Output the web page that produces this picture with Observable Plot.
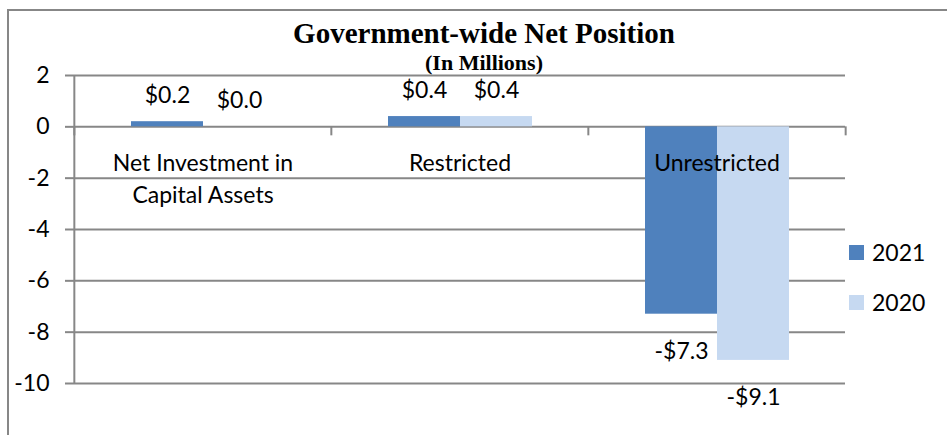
<!DOCTYPE html>
<html>
<head>
<meta charset="utf-8">
<script src="https://cdn.jsdelivr.net/npm/d3@7"></script>
<script src="https://cdn.jsdelivr.net/npm/@observablehq/plot@0.6"></script>
<style>
  html, body { margin: 0; padding: 0; background: #fff; }
  #wrap { position: relative; width: 947px; height: 435px; overflow: hidden; font-family: Lato, "Open Sans", sans-serif; }
  #border { position: absolute; left: 7px; top: 9px; width: 945px; height: 440px; border-left: 2px solid #878787; border-top: 2px solid #878787; }
  #chart { position: absolute; left: 0; top: 0; }
  .title { position: absolute; left: 0; width: 968px; text-align: center; font-family: "Liberation Serif", "Times New Roman", serif; font-weight: bold; color: #000; white-space: nowrap; line-height: 1; }
  #t1 { top: 19px; font-size: 29px; }
  #t2 { top: 52px; font-size: 22px; }
  .leg { position: absolute; left: 849px; font-size: 23px; color: #000; display: flex; align-items: center; height: 24px; line-height: 1; }
  .leg span.sw { width: 15px; height: 15px; display: inline-block; margin-right: 8px; }
</style>
</head>
<body>
<div id="wrap">
  <div id="border"></div>
  <div id="chart"></div>
  <div class="title" id="t1">Government-wide Net Position</div>
  <div class="title" id="t2">(In Millions)</div>
  <div id="legend"></div>
</div>
<script>
// ---- data ----
const categories = ["Net Investment in Capital Assets", "Restricted", "Unrestricted"];
const categoryLabels = ["Net Investment in\nCapital Assets", "Restricted", "Unrestricted"];
const years = ["2021", "2020"];
const values2021 = [0.2, 0.4, -7.3];
const values2020 = [0.0, 0.4, -9.1];
const yTicks = [2, 0, -2, -4, -6, -8, -10];
const colors = ["#4F81BD", "#C6D9F1"];

const rows = [];
categories.forEach((c, i) => {
  rows.push({category: c, year: "2021", value: values2021[i]});
  rows.push({category: c, year: "2020", value: values2020[i]});
});
const fmt = v => (v < 0 ? "-" : "") + "$" + Math.abs(v).toFixed(1);

const W = 947, H = 435, mL = 73, mR = 102, mT = 75, mB = 52;
const fw = (W - mL - mR) / categories.length;
const gridColor = "#878787";
const font = "Lato, 'Open Sans', sans-serif";
const fs = 23;

const chart = Plot.plot({
  width: W,
  height: H,
  marginLeft: mL,
  marginRight: mR,
  marginTop: mT,
  marginBottom: mB,
  style: {fontFamily: font, fontSize: fs + "px", color: "#000", background: "transparent", overflow: "visible"},
  fx: {domain: categories, padding: 0, axis: null},
  x: {domain: years, paddingInner: 0, paddingOuter: 0.767, axis: null},
  y: {domain: [-10, 2], axis: null},
  color: {domain: years, range: colors},
  marks: [
    Plot.gridY(yTicks, {stroke: gridColor, strokeOpacity: 1, strokeWidth: 2}),
    Plot.axisY({ticks: yTicks, tickSize: 9, tickPadding: 16, stroke: gridColor, strokeWidth: 2, fontSize: fs, label: null, tickFormat: d => String(d)}),
    Plot.ruleX([null], {x: null, facetAnchor: "left", dx: -fw / 2, stroke: gridColor, strokeWidth: 2}),
    Plot.ruleX(categories, {fx: d => d, x: null, y1: 0, y2: 0, insetBottom: -9, dx: -fw / 2, stroke: gridColor, strokeWidth: 2}),
    Plot.ruleX([categories[categories.length - 1]], {fx: d => d, x: null, y1: 0, y2: 0, insetBottom: -9, dx: fw / 2, stroke: gridColor, strokeWidth: 2}),
    Plot.barY(rows, {fx: "category", x: "year", y: "value", fill: "year"}),
    Plot.text(rows.filter(d => d.value >= 0), {fx: "category", x: "year", y: "value", text: d => fmt(d.value), lineAnchor: "bottom", dy: -19, fontSize: fs, fill: "#000"}),
    Plot.text(rows.filter(d => d.value < 0), {fx: "category", x: "year", y: "value", text: d => fmt(d.value), lineAnchor: "top", dy: 28, fontSize: fs, fill: "#000"}),
    Plot.text(categories, {fx: d => d, y: 0, text: d => categoryLabels[categories.indexOf(d)], lineAnchor: "top", dy: 21, lineHeight: 1.4, fontSize: fs, fill: "#000"})
  ]
});
document.getElementById("chart").appendChild(chart);

const legend = document.getElementById("legend");
years.forEach((y, i) => {
  const el = document.createElement("div");
  el.className = "leg";
  el.style.top = (240 + i * 50) + "px";
  el.innerHTML = `<span class="sw" style="background:${colors[i]}"></span><span>${y}</span>`;
  legend.appendChild(el);
});
</script>
</body>
</html>
